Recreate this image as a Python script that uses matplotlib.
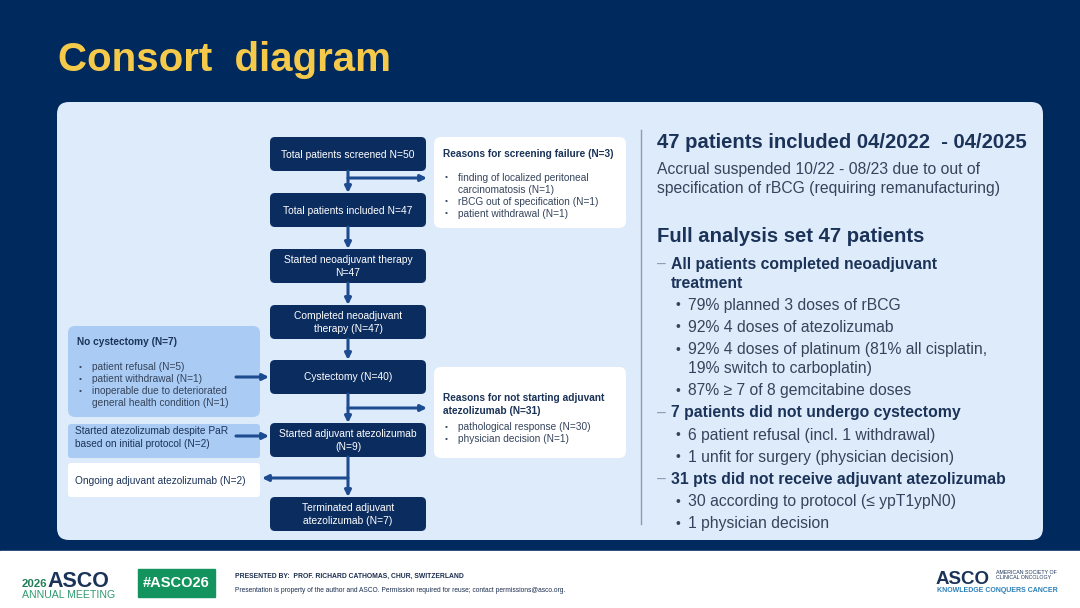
import matplotlib
matplotlib.use("Agg")
import matplotlib.pyplot as plt
from matplotlib.patches import FancyBboxPatch, Rectangle

plt.rcParams['font.family'] = ['Liberation Sans', 'DejaVu Sans']

# ---- content ----
title = "Consort  diagram"

flow_templates = ["Total patients screened N={}",
                  "Total patients included N={}",
                  "Started neoadjuvant therapy\nN={}",
                  "Completed neoadjuvant\ntherapy (N={})",
                  "Cystectomy (N={})",
                  "Started adjuvant atezolizumab\n(N={})",
                  "Terminated adjuvant\natezolizumab (N={})"]
flow_counts = [50, 47, 47, 47, 40, 9, 7]

screen_fail_title = "Reasons for screening failure (N=3)"
screen_fail_items = ["finding of localized peritoneal\ncarcinomatosis (N=1)",
                     "rBCG out of specification (N=1)",
                     "patient withdrawal (N=1)"]

no_cyst_title = "No cystectomy (N=7)"
no_cyst_items = ["patient refusal (N=5)",
                 "patient withdrawal (N=1)",
                 "inoperable due to deteriorated\ngeneral health condition (N=1)"]

not_adj_title = "Reasons for not starting adjuvant\natezolizumab (N=31)"
not_adj_items = ["pathological response (N=30)",
                 "physician decision (N=1)"]

despite_par = "Started atezolizumab despite PaR\nbased on initial protocol (N=2)"
ongoing = "Ongoing adjuvant atezolizumab (N=2)"

summary_head1 = "47 patients included 04/2022  - 04/2025"
summary_note = "Accrual suspended 10/22 - 08/23 due to out of\nspecification of rBCG (requiring remanufacturing)"
summary_head2 = "Full analysis set 47 patients"
# (level, text): 1 = dash item (bold), 2 = bullet item
summary_items = [(1, "All patients completed neoadjuvant\ntreatment"),
                 (2, "79% planned 3 doses of rBCG"),
                 (2, "92% 4 doses of atezolizumab"),
                 (2, "92% 4 doses of platinum (81% all cisplatin,\n19% switch to carboplatin)"),
                 (2, "87% \u2265 7 of 8 gemcitabine doses"),
                 (1, "7 patients did not undergo cystectomy"),
                 (2, "6 patient refusal (incl. 1 withdrawal)"),
                 (2, "1 unfit for surgery (physician decision)"),
                 (1, "31 pts did not receive adjuvant atezolizumab"),
                 (2, "30 according to protocol (\u2264 ypT1ypN0)"),
                 (2, "1 physician decision")]

# ---- colours ----
NAVY_BG = '#00295d'
PANEL = '#deebfa'
BOX = '#0b2c5f'
MID = '#aacbf3'
ARROW = '#1d4b8f'
HEAD = '#1b3358'
BODY = '#35445c'
YELLOW = '#f5c94a'
GREEN = '#13935d'

fig = plt.figure(figsize=(10.8, 6.08), dpi=100)
ax = fig.add_axes([0, 0, 1, 1])
ax.set_xlim(0, 1080)
ax.set_ylim(608, 0)
ax.axis('off')

# background
ax.add_patch(Rectangle((0, 0), 1080, 551, color=NAVY_BG, zorder=0))
ax.add_patch(Rectangle((0, 551), 1080, 57, color='white', zorder=0))
ax.add_patch(FancyBboxPatch((57, 102), 986, 438,
                            boxstyle="round,pad=0,rounding_size=12",
                            fc=PANEL, ec='none', zorder=1))

ax.text(58, 60, title, color=YELLOW, fontsize=29, fontweight='bold',
        va='center', ha='left')


def rbox(x, y, w, h, fc, r=5):
    ax.add_patch(FancyBboxPatch((x, y), w, h,
                                boxstyle="round,pad=0,rounding_size=%d" % r,
                                fc=fc, ec='none', zorder=2))


def arrow(x0, y0, x1, y1):
    ax.annotate("", xy=(x1, y1), xytext=(x0, y0),
                arrowprops=dict(arrowstyle='-|>', color=ARROW, lw=2.2,
                                mutation_scale=9, shrinkA=0, shrinkB=0),
                zorder=3)


def lines_at(x, y, txt, step, **kw):
    # draw a multi-line string one line at a time so line spacing is exact
    for k, ln in enumerate(txt.split('\n')):
        ax.text(x, y + k * step, ln, ha='left', va='center_baseline',
                zorder=4, **kw)


# flow boxes
cx, bw, bh = 348, 156, 34
box_tops = [137, 193, 249, 305, 360, 423, 497]
for top, tmpl, n in zip(box_tops, flow_templates, flow_counts):
    rbox(cx - bw / 2, top, bw, bh, BOX)
    ax.text(cx, top + bh / 2 + 0.5, tmpl.format(n), color='white', fontsize=7.4,
            ha='center', va='center', linespacing=1.35, zorder=4)

# vertical connectors
for i in range(len(box_tops) - 1):
    arrow(cx, box_tops[i] + bh, cx, box_tops[i + 1])

# branches
arrow(cx, 178, 427, 178)
arrow(cx, 408, 427, 408)
arrow(cx, 478, 262, 478)
arrow(236, 377, 269, 377)
arrow(236, 436, 269, 436)


def bullet_box(x, y, w, h, fc, head, items, head_y, first_y):
    rbox(x, y, w, h, fc, r=7)
    lines_at(x + 9, head_y, head, 13, color=HEAD, fontsize=7.3,
             fontweight='bold')
    yy = first_y
    for it in items:
        ax.text(x + 11, yy, "\u2022", color=BODY, fontsize=6, ha='left',
                va='center_baseline', zorder=4)
        lines_at(x + 24, yy, it, 12, color=BODY, fontsize=7.3)
        yy += 12 * (1 + it.count('\n'))


# white reason boxes on the right of the flow
bullet_box(434, 137, 192, 91, 'white', screen_fail_title, screen_fail_items,
           153, 177)
bullet_box(434, 367, 192, 91, 'white', not_adj_title, not_adj_items,
           397, 426)
# left side box
bullet_box(68, 326, 192, 91, MID, no_cyst_title, no_cyst_items, 341, 366)

rbox(68, 424, 192, 34, MID, r=3)
lines_at(75, 430, despite_par, 13, color=HEAD, fontsize=7.3)
rbox(68, 463, 192, 34, 'white', r=3)
lines_at(75, 480, ongoing, 13, color=HEAD, fontsize=7.3)

# divider
ax.plot([641, 641], [130, 524], color='#8a9bb3', lw=1, zorder=2)

# summary text
lines_at(657, 140, summary_head1, 20, color=HEAD, fontsize=14.6,
         fontweight='bold')
lines_at(657, 168, summary_note, 19.5, color=BODY, fontsize=11.3)
lines_at(657, 234, summary_head2, 20, color=HEAD, fontsize=14.6,
         fontweight='bold')

yy = 262.5
for lvl, txt in summary_items:
    nl = txt.count('\n')
    if lvl == 1:
        ax.text(657, yy, "\u2013", color='#8a9bb3', fontsize=11.3,
                ha='left', va='center_baseline', zorder=4)
        lines_at(671, yy, txt, 19, color=HEAD, fontsize=11.3,
                 fontweight='bold')
    else:
        ax.text(675, yy, "\u2022", color=BODY, fontsize=10,
                ha='left', va='center_baseline', zorder=4)
        lines_at(688, yy, txt, 19, color=BODY, fontsize=11.3)
    yy += 22.2 + 19 * nl

# footer
ax.text(22, 587, "2026", color='#1f7d57', fontsize=8.2, fontweight='bold',
        ha='left', va='baseline')
ax.text(47, 587, "ASCO", color='#1b3358', fontsize=15.5, fontweight='bold',
        ha='left', va='baseline')
ax.text(22, 598.5, "ANNUAL MEETING", color='#2f9a70', fontsize=7.6, ha='left',
        va='baseline')
ax.add_patch(Rectangle((138, 569), 77, 28, color=GREEN, zorder=2))
ax.text(176.5, 583, "#ASCO26", color='white', fontsize=10.5,
        fontweight='bold', ha='center', va='center', zorder=3)
ax.text(235, 576, "PRESENTED BY:  PROF. RICHARD CATHOMAS, CHUR, SWITZERLAND",
        color='#1b2d4f', fontsize=4.9, fontweight='bold', ha='left',
        va='center')
ax.text(235, 591, "Presentation is property of the author and ASCO. Permission "
        "required for reuse; contact permissions@asco.org.", color='#1b2d4f',
        fontsize=4.8, ha='left', va='center')
ax.text(936, 577, "ASCO", color='#1b3358', fontsize=13.5, fontweight='bold',
        ha='left', va='center_baseline')
ax.text(996, 575, "AMERICAN SOCIETY OF\nCLINICAL ONCOLOGY", color='#1b3358',
        fontsize=3.8, ha='left', va='center', linespacing=1.2)
ax.text(937, 591, "KNOWLEDGE CONQUERS CANCER", color='#2a7fb8', fontsize=5.0,
        fontweight='bold', ha='left', va='center')

fig.savefig("out.png", dpi=100)
